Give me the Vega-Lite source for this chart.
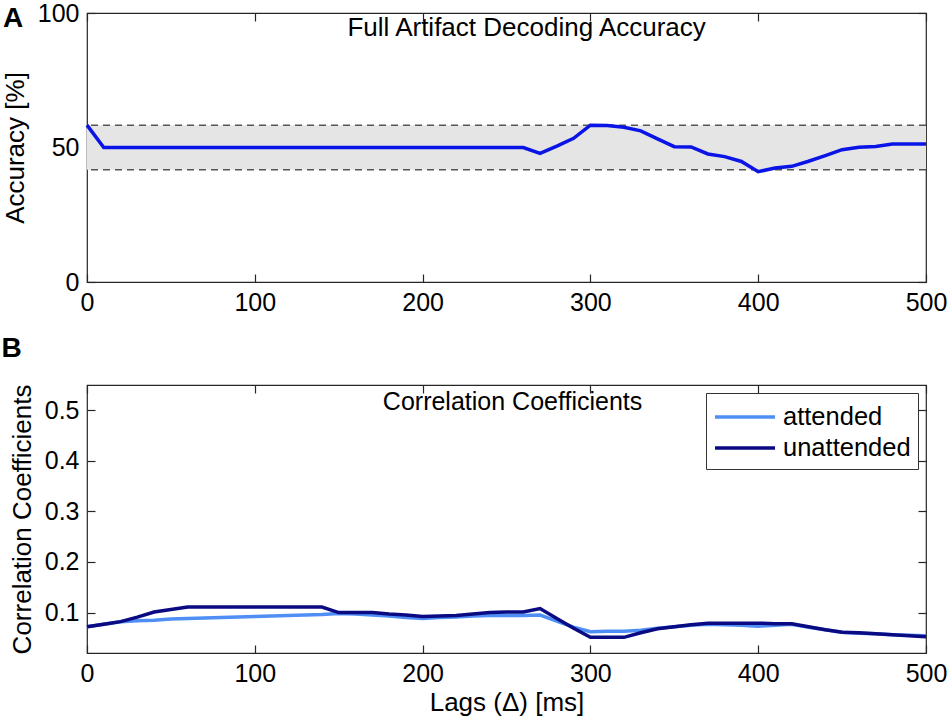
{
  "$schema": "https://vega.github.io/schema/vega-lite/v6.json",
  "padding": {"left": 0, "top": 0, "right": 2, "bottom": 2},
  "spacing": 18,
  "resolve": {"legend": {"color": "independent"}},
  "config": {
    "font": "Liberation Sans",
    "view": {"stroke": "#262626", "strokeWidth": 1.2},
    "axis": {
      "domain": false,
      "grid": false,
      "ticks": true,
      "tickColor": "#262626",
      "tickSize": -8,
      "tickWidth": 1.2,
      "labelFlush": false,
      "labelOverlap": false,
      "labelFontSize": 25,
      "labelColor": "#000000",
      "labelFont": "Liberation Sans",
      "labelPadding": 16,
      "titleFont": "Liberation Sans",
      "titleFontSize": 26,
      "titleFontWeight": "normal",
      "titleColor": "#000000"
    }
  },
  "datasets": {
    "band": [{"lo": 41.7, "hi": 58.3}],
    "acc": [
      {"lag": 0, "acc": 58.3}, {"lag": 10, "acc": 50}, {"lag": 20, "acc": 50}, {"lag": 30, "acc": 50},
      {"lag": 40, "acc": 50}, {"lag": 50, "acc": 50}, {"lag": 60, "acc": 50}, {"lag": 70, "acc": 50},
      {"lag": 80, "acc": 50}, {"lag": 90, "acc": 50}, {"lag": 100, "acc": 50}, {"lag": 110, "acc": 50},
      {"lag": 120, "acc": 50}, {"lag": 130, "acc": 50}, {"lag": 140, "acc": 50}, {"lag": 150, "acc": 50},
      {"lag": 160, "acc": 50}, {"lag": 170, "acc": 50}, {"lag": 180, "acc": 50}, {"lag": 190, "acc": 50},
      {"lag": 200, "acc": 50}, {"lag": 210, "acc": 50}, {"lag": 220, "acc": 50}, {"lag": 230, "acc": 50},
      {"lag": 240, "acc": 50}, {"lag": 250, "acc": 50}, {"lag": 260, "acc": 50}, {"lag": 270, "acc": 47.8},
      {"lag": 280, "acc": 50.5}, {"lag": 290, "acc": 53.4}, {"lag": 300, "acc": 58.3}, {"lag": 310, "acc": 58.2},
      {"lag": 320, "acc": 57.5}, {"lag": 330, "acc": 56.2}, {"lag": 340, "acc": 53.2}, {"lag": 350, "acc": 50.3},
      {"lag": 360, "acc": 50.2}, {"lag": 370, "acc": 47.6}, {"lag": 380, "acc": 46.6}, {"lag": 390, "acc": 44.8},
      {"lag": 400, "acc": 41.0}, {"lag": 410, "acc": 42.4}, {"lag": 420, "acc": 43.0}, {"lag": 430, "acc": 44.9},
      {"lag": 440, "acc": 47.0}, {"lag": 450, "acc": 49.2}, {"lag": 460, "acc": 50.1}, {"lag": 470, "acc": 50.4},
      {"lag": 480, "acc": 51.3}, {"lag": 490, "acc": 51.3}, {"lag": 500, "acc": 51.3}
    ],
    "corr": [
      {"lag": 0, "group": "attended", "r": 0.072}, {"lag": 10, "group": "attended", "r": 0.077},
      {"lag": 20, "group": "attended", "r": 0.082}, {"lag": 30, "group": "attended", "r": 0.084},
      {"lag": 40, "group": "attended", "r": 0.085}, {"lag": 50, "group": "attended", "r": 0.087},
      {"lag": 60, "group": "attended", "r": 0.088}, {"lag": 70, "group": "attended", "r": 0.089},
      {"lag": 80, "group": "attended", "r": 0.090}, {"lag": 90, "group": "attended", "r": 0.091},
      {"lag": 100, "group": "attended", "r": 0.092}, {"lag": 110, "group": "attended", "r": 0.093},
      {"lag": 120, "group": "attended", "r": 0.094}, {"lag": 130, "group": "attended", "r": 0.095},
      {"lag": 140, "group": "attended", "r": 0.096}, {"lag": 150, "group": "attended", "r": 0.098},
      {"lag": 160, "group": "attended", "r": 0.097}, {"lag": 170, "group": "attended", "r": 0.095},
      {"lag": 180, "group": "attended", "r": 0.093}, {"lag": 190, "group": "attended", "r": 0.090},
      {"lag": 200, "group": "attended", "r": 0.088}, {"lag": 210, "group": "attended", "r": 0.090},
      {"lag": 220, "group": "attended", "r": 0.091}, {"lag": 230, "group": "attended", "r": 0.093},
      {"lag": 240, "group": "attended", "r": 0.094}, {"lag": 250, "group": "attended", "r": 0.094},
      {"lag": 260, "group": "attended", "r": 0.094}, {"lag": 270, "group": "attended", "r": 0.095},
      {"lag": 280, "group": "attended", "r": 0.083}, {"lag": 290, "group": "attended", "r": 0.071},
      {"lag": 300, "group": "attended", "r": 0.062}, {"lag": 310, "group": "attended", "r": 0.063},
      {"lag": 320, "group": "attended", "r": 0.063}, {"lag": 330, "group": "attended", "r": 0.065},
      {"lag": 340, "group": "attended", "r": 0.069}, {"lag": 350, "group": "attended", "r": 0.072},
      {"lag": 360, "group": "attended", "r": 0.075}, {"lag": 370, "group": "attended", "r": 0.077},
      {"lag": 380, "group": "attended", "r": 0.076}, {"lag": 390, "group": "attended", "r": 0.075},
      {"lag": 400, "group": "attended", "r": 0.073}, {"lag": 410, "group": "attended", "r": 0.075},
      {"lag": 420, "group": "attended", "r": 0.077}, {"lag": 430, "group": "attended", "r": 0.071},
      {"lag": 440, "group": "attended", "r": 0.066}, {"lag": 450, "group": "attended", "r": 0.061},
      {"lag": 460, "group": "attended", "r": 0.059}, {"lag": 470, "group": "attended", "r": 0.058},
      {"lag": 480, "group": "attended", "r": 0.056}, {"lag": 490, "group": "attended", "r": 0.055},
      {"lag": 500, "group": "attended", "r": 0.054},
      {"lag": 0, "group": "unattended", "r": 0.072}, {"lag": 10, "group": "unattended", "r": 0.077},
      {"lag": 20, "group": "unattended", "r": 0.082}, {"lag": 30, "group": "unattended", "r": 0.091},
      {"lag": 40, "group": "unattended", "r": 0.101}, {"lag": 50, "group": "unattended", "r": 0.106},
      {"lag": 60, "group": "unattended", "r": 0.111}, {"lag": 70, "group": "unattended", "r": 0.111},
      {"lag": 80, "group": "unattended", "r": 0.111}, {"lag": 90, "group": "unattended", "r": 0.111},
      {"lag": 100, "group": "unattended", "r": 0.111}, {"lag": 110, "group": "unattended", "r": 0.111},
      {"lag": 120, "group": "unattended", "r": 0.111}, {"lag": 130, "group": "unattended", "r": 0.111},
      {"lag": 140, "group": "unattended", "r": 0.111}, {"lag": 150, "group": "unattended", "r": 0.100},
      {"lag": 160, "group": "unattended", "r": 0.100}, {"lag": 170, "group": "unattended", "r": 0.100},
      {"lag": 180, "group": "unattended", "r": 0.097}, {"lag": 190, "group": "unattended", "r": 0.095},
      {"lag": 200, "group": "unattended", "r": 0.092}, {"lag": 210, "group": "unattended", "r": 0.093},
      {"lag": 220, "group": "unattended", "r": 0.094}, {"lag": 230, "group": "unattended", "r": 0.097},
      {"lag": 240, "group": "unattended", "r": 0.100}, {"lag": 250, "group": "unattended", "r": 0.101},
      {"lag": 260, "group": "unattended", "r": 0.101}, {"lag": 270, "group": "unattended", "r": 0.108},
      {"lag": 280, "group": "unattended", "r": 0.088}, {"lag": 290, "group": "unattended", "r": 0.069},
      {"lag": 300, "group": "unattended", "r": 0.051}, {"lag": 310, "group": "unattended", "r": 0.051},
      {"lag": 320, "group": "unattended", "r": 0.051}, {"lag": 330, "group": "unattended", "r": 0.060},
      {"lag": 340, "group": "unattended", "r": 0.068}, {"lag": 350, "group": "unattended", "r": 0.072},
      {"lag": 360, "group": "unattended", "r": 0.076}, {"lag": 370, "group": "unattended", "r": 0.079},
      {"lag": 380, "group": "unattended", "r": 0.079}, {"lag": 390, "group": "unattended", "r": 0.079},
      {"lag": 400, "group": "unattended", "r": 0.079}, {"lag": 410, "group": "unattended", "r": 0.078},
      {"lag": 420, "group": "unattended", "r": 0.078}, {"lag": 430, "group": "unattended", "r": 0.072},
      {"lag": 440, "group": "unattended", "r": 0.066}, {"lag": 450, "group": "unattended", "r": 0.061},
      {"lag": 460, "group": "unattended", "r": 0.060}, {"lag": 470, "group": "unattended", "r": 0.058},
      {"lag": 480, "group": "unattended", "r": 0.056}, {"lag": 490, "group": "unattended", "r": 0.054},
      {"lag": 500, "group": "unattended", "r": 0.052}
    ],
    "labelsA": [{"label": "Full Artifact Decoding Accuracy", "lx": 262, "ly": 91.4}],
    "panelA": [{"label": "A", "lx": -50, "ly": 94.8}],
    "labelsB": [{"label": "Correlation Coefficients", "lx": 253.6, "ly": 0.5}],
    "panelB": [{"label": "B", "lx": -51, "ly": 0.605}]
  },
  "vconcat": [
    {
      "width": 839,
      "height": 269,
      "resolve": {"axis": {"x": "independent", "y": "independent"}},
      "layer": [
        {
          "data": {"name": "band"},
          "mark": {"type": "rect", "color": "#e5e5e5"},
          "encoding": {
            "x": {"datum": 0, "type": "quantitative", "scale": {"domain": [0, 500], "nice": false}, "axis": null},
            "x2": {"datum": 500},
            "y": {"field": "lo", "type": "quantitative", "scale": {"domain": [0, 100], "nice": false}, "axis": null},
            "y2": {"field": "hi"}
          }
        },
        {
          "data": {"name": "band"},
          "mark": {"type": "rule", "color": "#555555", "strokeWidth": 1.5, "strokeDash": [7, 5]},
          "encoding": {
            "y": {"field": "lo", "type": "quantitative", "axis": null}
          }
        },
        {
          "data": {"name": "band"},
          "mark": {"type": "rule", "color": "#555555", "strokeWidth": 1.5, "strokeDash": [7, 5]},
          "encoding": {
            "y": {"field": "hi", "type": "quantitative", "axis": {"orient": "right", "values": [0, 50, 100], "labels": false, "title": null}}
          }
        },
        {
          "data": {"name": "acc"},
          "mark": {"type": "line", "color": "#0a14e6", "strokeWidth": 3.5},
          "encoding": {
            "x": {"field": "lag", "type": "quantitative", "axis": {"values": [0, 100, 200, 300, 400, 500], "title": null}},
            "y": {"field": "acc", "type": "quantitative", "axis": {"values": [0, 50, 100], "title": "Accuracy [%]", "titlePadding": 9}}
          }
        },
        {
          "data": {"name": "labelsA"},
          "mark": {"type": "text", "fontSize": 26, "baseline": "alphabetic", "align": "center", "color": "#000000"},
          "encoding": {
            "x": {"field": "lx", "type": "quantitative", "axis": {"orient": "top", "values": [0, 100, 200, 300, 400, 500], "labels": false, "title": null}},
            "y": {"field": "ly", "type": "quantitative", "axis": null},
            "text": {"field": "label"}
          }
        },
        {
          "data": {"name": "panelA"},
          "mark": {"type": "text", "fontSize": 28, "fontWeight": "bold", "baseline": "alphabetic", "align": "left", "color": "#000000", "clip": false},
          "encoding": {
            "x": {"field": "lx", "type": "quantitative", "axis": null},
            "y": {"field": "ly", "type": "quantitative", "axis": null},
            "text": {"field": "label"}
          }
        }
      ]
    },
    {
      "width": 839,
      "height": 268,
      "resolve": {"axis": {"x": "independent", "y": "independent"}},
      "layer": [
        {
          "data": {"name": "corr"},
          "mark": {"type": "line", "strokeWidth": 3.5},
          "encoding": {
            "x": {"field": "lag", "type": "quantitative", "scale": {"domain": [0, 500], "nice": false}, "axis": {"values": [0, 100, 200, 300, 400, 500], "title": "Lags (Δ) [ms]", "titlePadding": 3}},
            "y": {"field": "r", "type": "quantitative", "scale": {"domain": [0.02, 0.55], "nice": false, "zero": false}, "axis": {"values": [0.1, 0.2, 0.3, 0.4, 0.5], "format": ".1f", "title": "Correlation Coefficients", "titlePadding": 9}},
            "color": {
              "field": "group", "type": "nominal",
              "scale": {"domain": ["attended", "unattended"], "range": ["#4f8ff5", "#0a0a82"]},
              "legend": {
                "title": null, "orient": "top-right", "offset": 8,
                "strokeColor": "#333333", "fillColor": "#ffffff", "padding": 7,
                "labelFontSize": 25.5, "labelFont": "Liberation Sans", "labelColor": "#000000",
                "symbolType": "M-1,0H3", "symbolSize": 900, "symbolStrokeWidth": 3.5,
                "labelOffset": 36, "rowPadding": 0
              }
            }
          }
        },
        {
          "data": {"name": "labelsB"},
          "mark": {"type": "text", "fontSize": 25, "baseline": "alphabetic", "align": "center", "color": "#000000"},
          "encoding": {
            "x": {"field": "lx", "type": "quantitative", "axis": {"orient": "top", "values": [0, 100, 200, 300, 400, 500], "labels": false, "title": null}},
            "y": {"field": "ly", "type": "quantitative", "axis": {"orient": "right", "values": [0.1, 0.2, 0.3, 0.4, 0.5], "labels": false, "title": null}},
            "text": {"field": "label"}
          }
        },
        {
          "data": {"name": "panelB"},
          "mark": {"type": "text", "fontSize": 28, "fontWeight": "bold", "baseline": "alphabetic", "align": "left", "color": "#000000", "clip": false},
          "encoding": {
            "x": {"field": "lx", "type": "quantitative", "axis": null},
            "y": {"field": "ly", "type": "quantitative", "axis": null},
            "text": {"field": "label"}
          }
        }
      ]
    }
  ]
}
